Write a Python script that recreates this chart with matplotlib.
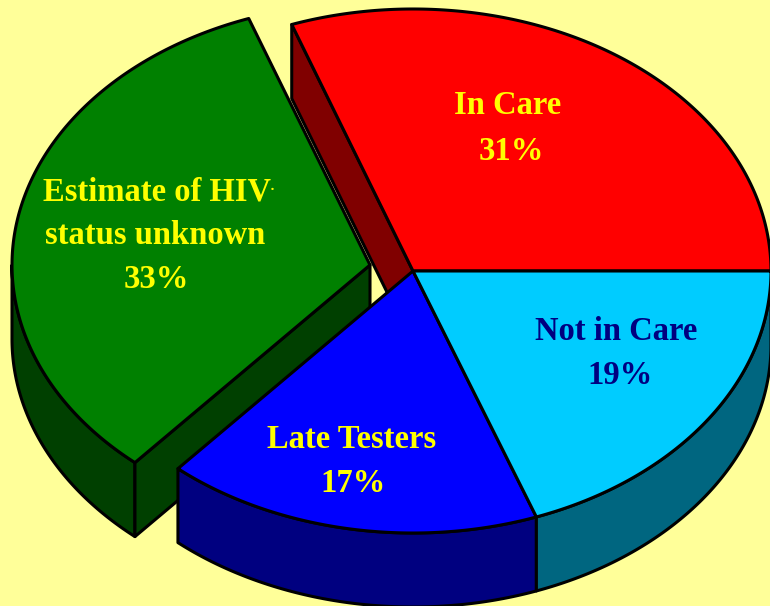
import numpy as np
import matplotlib
matplotlib.use("Agg")
import matplotlib.pyplot as plt
from matplotlib.patches import Polygon

# Data
categories = ["In Care", "Not in Care", "Late Testers", "Estimate of HIV"]
shares = [30.5, 19.4, 17.0, 33.1]
labels = [["In Care", "31%"],
          ["Not in Care", "19%"],
          ["Late Testers", "17%"],
          ["Estimate of HIV", "status unknown", "33%"]]

# Style / layout
BG = "#FFFF99"
top_cols = ["#FF0000", "#00CCFF", "#0000FF", "#008000"]
side_cols = ["#800000", "#006680", "#000080", "#004000"]
text_cols = ["#FFFF00", "#000080", "#FFFF00", "#FFFF00"]
text_pos = [[(508, 106), (511, 151)],
            [(616, 332), (620, 376)],
            [(352, 439), (353, 483)],
            [(157, 192), (155, 236), (156, 280)]]
CX, CY = 413, 271
A, B = 358, 262
DEPTH = 74
OFFSET = [(0, 0), (0, 0), (0, 0), (-43, -6)]
LW = 2.2

plt.rcParams["font.family"] = ["Liberation Serif", "DejaVu Serif"]
fig = plt.figure(figsize=(7.70, 6.06), dpi=100, facecolor=BG)
ax = fig.add_axes([0, 0, 1, 1])
ax.set_xlim(0, 770)
ax.set_ylim(606, 0)
ax.axis("off")


def pt(t, off):
    return CX + off[0] + A * np.cos(t), CY + off[1] - B * np.sin(t)


def arc(t0, t1, off):
    t = np.linspace(t0, t1, 160)
    x, y = pt(t, off)
    return np.column_stack([x, y])


def wedge(t0, t1, off, col, z):
    verts = np.vstack([[[CX + off[0], CY + off[1]]], arc(t0, t1, off)])
    ax.add_patch(Polygon(verts, closed=True, fc=col, ec="black", lw=LW,
                         joinstyle="round", zorder=z))


def outer_wall(t0, t1, off, col, z):
    top = arc(t0, t1, off)
    bot = top[::-1] + [0, DEPTH]
    ax.add_patch(Polygon(np.vstack([top, bot]), closed=True, fc=col, ec="black",
                         lw=LW, joinstyle="round", zorder=z))


def flat_wall(t, off, col, z):
    apex = np.array([CX + off[0], CY + off[1]])
    rim = np.array(pt(t, off))
    verts = [apex, rim, rim + [0, DEPTH], apex + [0, DEPTH]]
    ax.add_patch(Polygon(verts, closed=True, fc=col, ec="black", lw=LW,
                         joinstyle="round", zorder=z))


# slices run from the horizontal: In Care counter-clockwise, the rest clockwise
fr = np.array(shares) / sum(shares) * 2 * np.pi
t_red_end = fr[0]
t_cyan_end = -fr[1]
t_blue_end = t_cyan_end - fr[2]
t_green_end = t_red_end + fr[3]

# back: In Care
flat_wall(t_red_end, OFFSET[0], side_cols[0], 1)
wedge(0, t_red_end, OFFSET[0], top_cols[0], 2)

# exploded: Estimate of HIV status unknown
outer_wall(np.pi, t_green_end, OFFSET[3], side_cols[3], 3)
flat_wall(t_green_end, OFFSET[3], side_cols[3], 3)
wedge(t_red_end, t_green_end, OFFSET[3], top_cols[3], 4)

# front: Late Testers and Not in Care
outer_wall(t_cyan_end, t_blue_end, OFFSET[2], side_cols[2], 5)
wedge(t_cyan_end, t_blue_end, OFFSET[2], top_cols[2], 6)
outer_wall(0, t_cyan_end, OFFSET[1], side_cols[1], 7)
wedge(0, t_cyan_end, OFFSET[1], top_cols[1], 8)

for lines, poss, col in zip(labels, text_pos, text_cols):
    for s, (x, y) in zip(lines, poss):
        ax.text(x, y, s, color=col, fontsize=23.5, fontweight="bold",
                ha="center", va="center", zorder=10)
# the small stray mark after "HIV" in the reference
ax.text(272, 190, "·", color="#FFFF00", fontsize=11, fontweight="bold",
        ha="center", va="center", zorder=10)

fig.savefig("out.png", dpi=100, facecolor=BG)
